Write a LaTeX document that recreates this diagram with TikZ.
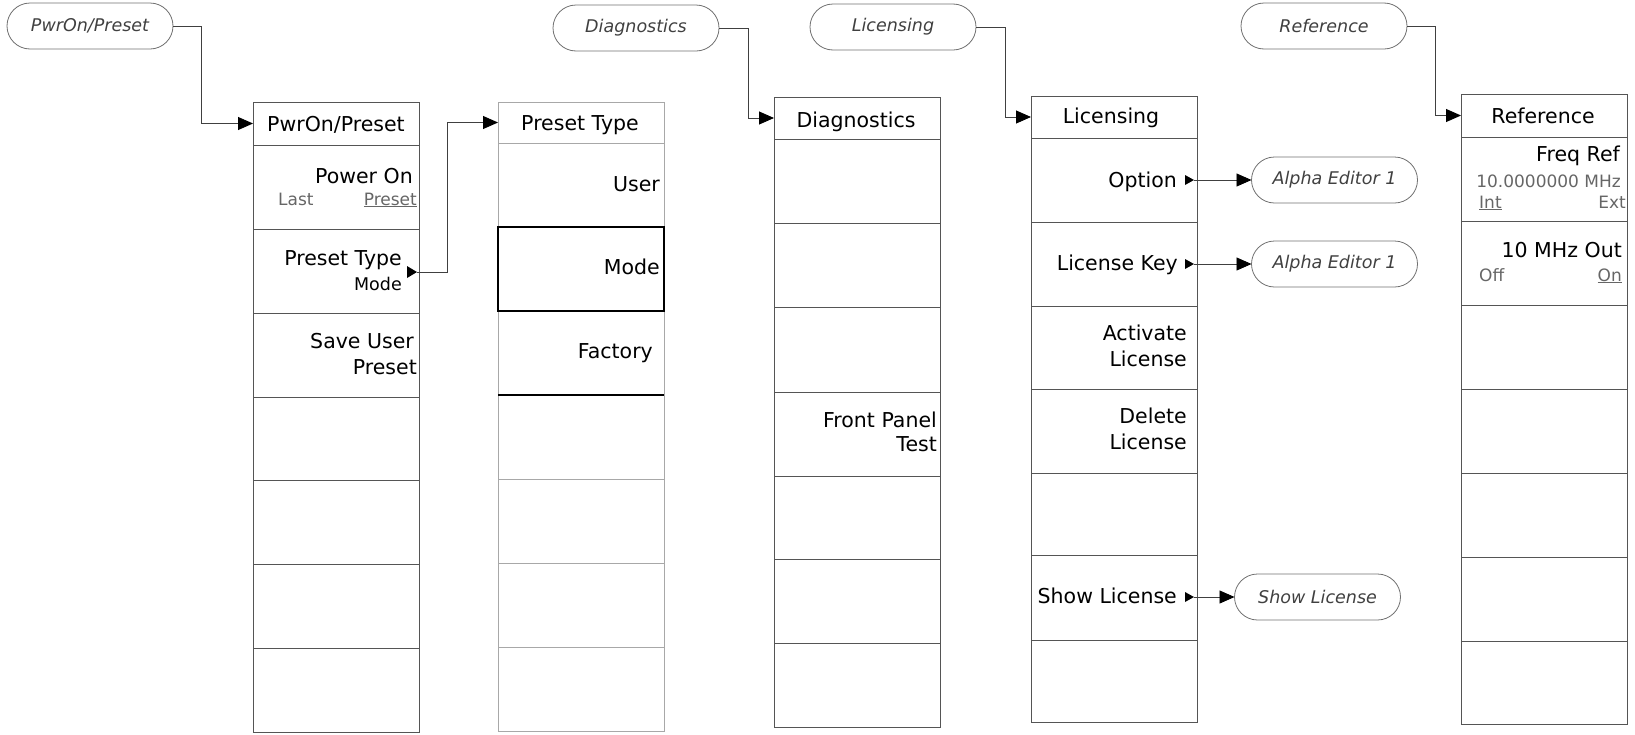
\documentclass[tikz,border=0pt]{standalone}
\usepackage{fontspec}
\setmainfont{DejaVu Sans}
\usetikzlibrary{arrows.meta,shapes.misc}
\definecolor{boxgray}{HTML}{555555}
\definecolor{lightbox}{HTML}{A8A8A8}
\definecolor{subgray}{HTML}{666666}
\definecolor{ovalline}{HTML}{707070}
\definecolor{ovaltext}{HTML}{404040}
\definecolor{connline}{HTML}{404040}
\newcommand\fmain{\fontsize{20.5pt}{24pt}\selectfont}
\newcommand\fsub{\fontsize{17pt}{20pt}\selectfont}
\newcommand\fval{\fontsize{17.5pt}{20pt}\selectfont}
\newcommand\fovl{\fontsize{17.5pt}{20pt}\selectfont\itshape}
\begin{document}
\begin{tikzpicture}[x=1pt,y=-1pt,
  cell/.style={draw=boxgray,line width=1pt,minimum width=166pt,anchor=north west,inner sep=0pt,outer sep=0pt},
  lcell/.style={cell,draw=lightbox},
  oval/.style={rounded rectangle,draw=ovalline,line width=0.8pt,minimum width=166pt,minimum height=46pt,inner sep=0pt,outer sep=0pt,font=\fovl,text=ovaltext},
  hdr/.style={anchor=base,inner sep=0pt,font=\fmain},
  lbl/.style={anchor=base east,inner sep=0pt,font=\fmain},
  val/.style={anchor=base east,inner sep=0pt,font=\fval},
  subr/.style={anchor=base east,inner sep=0pt,font=\fsub,text=subgray},
  subl/.style={anchor=base west,inner sep=0pt,font=\fsub,text=subgray},
  conn/.style={draw=connline,line width=0.9pt,-{Triangle[length=15pt,width=13pt,color=black,fill=black]}},
  tri/.style={fill=black}]
\useasboundingbox (0,0) rectangle (1635,734);

% ---------- PwrOn/Preset menu ----------
\foreach \ya/\yb [count=\i] in {102/145,145/229,229/313,313/397,397/480,480/564,564/648,648/732}
  \node[cell,minimum height=\yb-\ya] (pp\i) at (253,\ya) {};
\node[hdr] (pph) at (336,131) {PwrOn/Preset};
\node[lbl] (ppa) at (413,183) {Power On};
\node[subl] (ppb) at (278,205) {Last};
\node[subr] (ppc) at (417,205) {\underline{Preset}};
\node[lbl] (ppd) at (402,265) {Preset Type};
\node[val] (ppe) at (402,290) {Mode};
\node[lbl] (ppf) at (414,348) {Save User};
\node[lbl] (ppg) at (417,374) {Preset};
\fill[tri] (407,266) -- (417,272) -- (407,278) -- cycle;
\coordinate (tri1) at (417,272);

% ---------- Preset Type menu ----------
\foreach \ya/\yb [count=\i] in {102/143,143/227,227/311,311/395,395/479,479/563,563/647,647/731}
  \node[lcell,minimum height=\yb-\ya] (pt\i) at (498,\ya) {};
\draw[black,line width=2.5pt] (pt3.north west) rectangle (pt3.south east);
\draw[black,line width=1.2pt] (pt4.south west) -- (pt4.south east);
\node[hdr] (pth) at (580,130) {Preset Type};
\node[lbl] (pta) at (660,191) {User};
\node[lbl] (ptb) at (660,274) {Mode};
\node[lbl] (ptc) at (653,358) {Factory};

% ---------- Diagnostics menu ----------
\foreach \ya/\yb [count=\i] in {97/139,139/223,223/307,307/392,392/476,476/559,559/643,643/727}
  \node[cell,minimum height=\yb-\ya] (dx\i) at (774,\ya) {};
\node[hdr] (dxh) at (856,127) {Diagnostics};
\node[lbl] (dxa) at (937,427) {Front Panel};
\node[lbl] (dxb) at (937,451) {Test};

% ---------- Licensing menu ----------
\foreach \ya/\yb [count=\i] in {96/138,138/222,222/306,306/389,389/473,473/555,555/640,640/722}
  \node[cell,minimum height=\yb-\ya] (lx\i) at (1031,\ya) {};
\node[hdr] (lxh) at (1111,123) {Licensing};
\node[lbl] (lxa) at (1177,187) {Option};
\node[lbl] (lxb) at (1178,270) {License Key};
\node[lbl] (lxc) at (1187,340) {Activate};
\node[lbl] (lxd) at (1187,366) {License};
\node[lbl] (lxe) at (1187,423) {Delete};
\node[lbl] (lxf) at (1187,449) {License};
\node[lbl] (lxg) at (1177,603) {Show License};
\fill[tri] (1185,175) -- (1194,180) -- (1185,185) -- cycle;
\coordinate (tri2) at (1194,180);
\fill[tri] (1185,259) -- (1194,264) -- (1185,269) -- cycle;
\coordinate (tri3) at (1194,264);
\fill[tri] (1185,592) -- (1194,597) -- (1185,602) -- cycle;
\coordinate (tri4) at (1194,597);

% ---------- Reference menu ----------
\foreach \ya/\yb [count=\i] in {94/137,137/221,221/305,305/389,389/473,473/557,557/641,641/724}
  \node[cell,minimum height=\yb-\ya] (rx\i) at (1461,\ya) {};
\node[hdr] (rxh) at (1543,123) {Reference};
\node[lbl] (rxa) at (1620,161) {Freq Ref};
\node[subr] (rxb) at (1621,187) {10.0000000 MHz};
\node[subl] (rxc) at (1479,208) {\underline{Int}};
\node[subr] (rxd) at (1626,208) {Ext};
\node[lbl] (rxe) at (1622,257) {10 MHz Out};
\node[subl] (rxf) at (1479,281) {Off};
\node[subr] (rxg) at (1622,281) {\underline{On}};

% ---------- Ovals ----------
\node[oval] (po) at (90,26) {PwrOn/Preset};
\node[oval] (dg) at (636,28) {Diagnostics};
\node[oval] (lo) at (893,27) {Licensing};
\node[oval] (ro) at (1324,26) {Reference};
\node[oval] (ae1) at (1334.5,180) {Alpha Editor 1};
\node[oval] (ae2) at (1334.5,264) {Alpha Editor 1};
\node[oval] (sl) at (1317.5,597) {Show License};

% ---------- Connectors ----------
\draw[conn] (po.east) -- ++(28,0) |- (pp1.west);
\draw[conn] (tri1) -- ++(30,0) |- (pt1.west);
\draw[conn] (dg.east) -- ++(29,0) |- (dx1.west);
\draw[conn] (lo.east) -- ++(29,0) |- (lx1.west);
\draw[conn] (ro.east) -- ++(28,0) |- (rx1.west);
\draw[conn] (tri2) -- (ae1.west);
\draw[conn] (tri3) -- (ae2.west);
\draw[conn] (tri4) -- (sl.west);
\end{tikzpicture}
\end{document}
